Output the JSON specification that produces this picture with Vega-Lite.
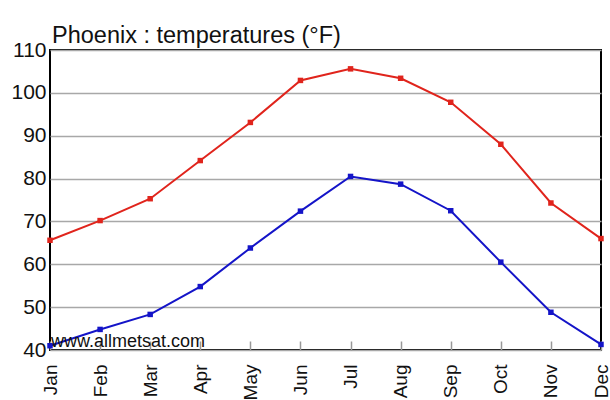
{
  "$schema": "https://vega.github.io/schema/vega-lite/v6.json",
  "width": 551,
  "height": 300,
  "autosize": {"type": "none"},
  "padding": {"left": 50, "top": 50, "right": 9, "bottom": 50},
  "background": "white",
  "title": {
    "text": "Phoenix : temperatures (°F)",
    "anchor": "start",
    "frame": "group",
    "fontSize": 23.5,
    "fontWeight": "normal",
    "font": "Liberation Sans",
    "color": "#111111",
    "offset": 0,
    "dy": 8,
    "dx": 2
  },
  "config": {
    "view": {"stroke": "#000000", "strokeWidth": 2},
    "font": "Liberation Sans"
  },
  "datasets": {
    "temps": [
      {"month": "Jan", "series": "max", "temp": 65.6},
      {"month": "Feb", "series": "max", "temp": 70.2},
      {"month": "Mar", "series": "max", "temp": 75.3},
      {"month": "Apr", "series": "max", "temp": 84.2},
      {"month": "May", "series": "max", "temp": 93.1},
      {"month": "Jun", "series": "max", "temp": 102.9},
      {"month": "Jul", "series": "max", "temp": 105.6},
      {"month": "Aug", "series": "max", "temp": 103.4},
      {"month": "Sep", "series": "max", "temp": 97.8},
      {"month": "Oct", "series": "max", "temp": 88.0},
      {"month": "Nov", "series": "max", "temp": 74.3},
      {"month": "Dec", "series": "max", "temp": 66.0},
      {"month": "Jan", "series": "min", "temp": 41.0},
      {"month": "Feb", "series": "min", "temp": 44.8},
      {"month": "Mar", "series": "min", "temp": 48.3},
      {"month": "Apr", "series": "min", "temp": 54.8},
      {"month": "May", "series": "min", "temp": 63.8},
      {"month": "Jun", "series": "min", "temp": 72.4},
      {"month": "Jul", "series": "min", "temp": 80.5},
      {"month": "Aug", "series": "min", "temp": 78.7},
      {"month": "Sep", "series": "min", "temp": 72.5},
      {"month": "Oct", "series": "min", "temp": 60.5},
      {"month": "Nov", "series": "min", "temp": 48.8},
      {"month": "Dec", "series": "min", "temp": 41.3}
    ],
    "mark": [
      {"month": "Jan", "temp": 40.3, "label": "www.allmetsat.com"}
    ]
  },
  "encoding": {
    "x": {
      "field": "month",
      "type": "ordinal",
      "sort": ["Jan","Feb","Mar","Apr","May","Jun","Jul","Aug","Sep","Oct","Nov","Dec"],
      "scale": {"type": "point", "padding": 0},
      "axis": {
        "title": null,
        "labelAngle": -90,
        "labelAlign": "right",
        "labelBaseline": "middle",
        "labelFontSize": 19,
        "labelColor": "#111111",
        "labelPadding": 23,
        "tickSize": -9,
        "tickColor": "#999999",
        "tickWidth": 1.5,
        "domain": false,
        "grid": false
      }
    },
    "y": {
      "field": "temp",
      "type": "quantitative",
      "scale": {"domain": [40, 110], "nice": false, "zero": false},
      "axis": {
        "title": null,
        "values": [40, 50, 60, 70, 80, 90, 100, 110],
        "labelFontSize": 21,
        "labelColor": "#111111",
        "labelPadding": 4,
        "ticks": false,
        "domain": false,
        "grid": true,
        "gridColor": "#a8a8a8",
        "gridWidth": 1.5
      }
    }
  },
  "layer": [
    {
      "data": {"name": "temps"},
      "mark": {"type": "line", "strokeWidth": 2},
      "encoding": {
        "color": {
          "field": "series",
          "type": "nominal",
          "scale": {"domain": ["max", "min"], "range": ["#e0241c", "#1414c8"]},
          "legend": null
        }
      }
    },
    {
      "data": {"name": "temps"},
      "mark": {"type": "point", "shape": "square", "filled": true, "size": 30, "opacity": 1},
      "encoding": {
        "color": {
          "field": "series",
          "type": "nominal",
          "scale": {"domain": ["max", "min"], "range": ["#e0241c", "#1414c8"]},
          "legend": null
        }
      }
    },
    {
      "data": {"name": "mark"},
      "mark": {"type": "text", "align": "left", "baseline": "bottom", "fontSize": 18, "color": "#111111", "dx": 1, "dy": 2},
      "encoding": {
        "text": {"field": "label"}
      }
    }
  ]
}
